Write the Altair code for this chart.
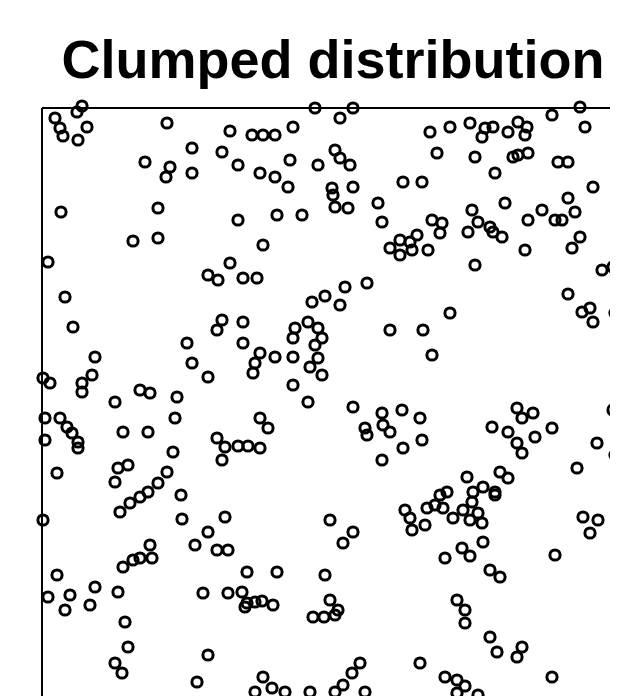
import altair as alt
import pandas as pd

# Point positions in plot units (x to the right, y upward)
x_vals = [
    13, 18, 21, 35, 40, 45, 36, 125, 103, 128, 124, 19, 116, 91, 116, 6, 23,
    273, 188, 210, 221, 233, 251, 150, 180, 196, 218, 233, 246, 248, 276, 150, 196, 235, 260, 221, 188, 166, 176, 201, 215, 283,
    311, 298, 388, 408, 395, 293, 298, 308, 290, 291, 293, 306, 311, 361, 380, 336, 340, 390, 400, 398, 348, 358, 358, 368, 375, 370, 386, 325, 303,
    428, 443, 440, 451, 466, 476, 485, 483, 476, 471, 486, 510, 538, 543, 433, 453, 516, 526, 551, 463, 430, 436, 426, 448, 460, 451, 486, 500, 513, 520, 526, 533, 538, 530, 483, 433, 560, 571, 526,
    31, 53, 1, 8, 40, 50, 40, 73, 98, 108, 135, 133, 81, 106, 3, 18, 25, 30, 36, 36, 3, 15, 131, 76, 86, 73, 125, 116, 106, 98, 139,
    270, 298, 266, 276, 253, 251, 273, 280, 276, 280, 268, 251, 233, 218, 213, 211, 180, 175, 201, 201, 145, 150, 166, 251, 266, 218, 226, 175, 183, 180, 196, 206, 218,
    348, 381, 408, 390, 311, 340, 360, 378, 323, 325, 348, 341, 380, 361, 340, 425, 405, 398,
    540, 548, 551, 573, 575, 571, 573, 475, 491, 450, 466, 493, 510, 475, 480, 480, 555, 535, 441, 458, 466, 453, 431,
    1, 78, 88, 108, 110, 98, 91, 81, 15, 6, 28, 23, 53, 48, 76, 83, 86, 73, 80, 140,
    183, 166, 153, 175, 186, 205, 235, 283, 161, 186, 200, 205, 213, 220, 231, 203, 271, 282, 288, 166, 155, 221, 230, 213, 243, 268,
    363, 368, 370, 383, 385, 393, 401, 411, 421, 428, 288, 311, 301, 403, 420, 428, 296, 293, 415, 423, 423, 378, 318, 310, 301, 293, 323, 403, 415, 423, 415,
    430, 436, 440, 453, 441, 448, 458, 513, 541, 556, 548, 575, 448, 455, 480, 475, 575, 510, 436,
]
y_vals = [
    582, 572, 564, 588, 594, 573, 560, 577, 538, 533, 523, 488, 492, 459, 462, 438, 403,
    592, 569, 565, 565, 565, 573, 552, 548, 535, 527, 523, 513, 540, 535, 527, 480, 485, 485, 455, 437, 425, 420, 422, 422, 404,
    592, 582, 568, 573, 547, 550, 542, 535, 512, 505, 493, 492, 513, 518, 518, 497, 478, 480, 477, 467, 452, 460, 445, 458, 465, 450, 450, 417, 413,
    577, 572, 563, 573, 568, 578, 573, 565, 545, 543, 547, 585, 593, 573, 543, 527, 538, 538, 513, 497, 490, 478, 468, 473, 463, 468, 480, 490, 480, 480, 502, 488, 463, 452, 450, 435, 430, 433, 406,
    373, 343, 322, 317, 317, 325, 308, 298, 310, 307, 303, 282, 268, 268, 282, 282, 273, 267, 258, 252, 260, 227, 248, 232, 235, 218, 228, 217, 208, 203, 205,
    398, 395, 378, 372, 372, 362, 355, 362, 342, 325, 333, 343, 343, 347, 337, 327, 380, 370, 378, 357, 357, 337, 323, 315, 298, 282, 272, 262, 253, 240, 254, 254, 252,
    370, 370, 387, 345, 293, 287, 290, 282, 272, 265, 268, 275, 260, 252, 240, 223, 208, 205,
    388, 392, 378, 387, 323, 290, 245, 292, 287, 273, 268, 263, 272, 257, 247, 282, 257, 232, 213, 228, 222, 208, 208,
    180, 188, 197, 155, 142, 142, 140, 133, 125, 103, 105, 90, 113, 95, 108, 78, 53, 37, 27, 181,
    183, 168, 155, 150, 150, 128, 128, 125, 107, 107, 108, 97, 98, 99, 95, 93, 83, 83, 100, 45, 18, 23, 12, 8, 8, 8,
    190, 182, 170, 175, 192, 195, 192, 182, 190, 180, 180, 168, 157, 142, 152, 144, 90, 85, 100, 90, 77, 37, 37, 27, 15, 8, 8, 23, 20, 14, 7,
    198, 187, 177, 205, 158, 130, 123, 145, 183, 180, 167, 167, 63, 48, 53, 43, 95, 23, 5,
]

title_text = "Clumped distribution"

df = pd.DataFrame({"x": x_vals, "y": y_vals})
one = pd.DataFrame({"k": [0]})

W, H = 568, 588

points = (
    alt.Chart(df)
    .mark_point(shape="circle", filled=False, color="black", stroke="black",
                strokeWidth=3, size=105, opacity=1, clip=False)
    .encode(
        x=alt.X("x:Q", scale=alt.Scale(domain=[0, W], nice=False, zero=False), axis=None),
        y=alt.Y("y:Q", scale=alt.Scale(domain=[4, 592], nice=False, zero=False), axis=None),
    )
)

left_edge = alt.Chart(one).mark_rule(color="black", strokeWidth=2).encode(
    x=alt.value(0), y=alt.value(0), y2=alt.value(H)
)
top_edge = alt.Chart(one).mark_rule(color="black", strokeWidth=2).encode(
    x=alt.value(0), x2=alt.value(W), y=alt.value(0)
)

title = alt.Chart(one).mark_text(
    text=title_text,
    font="Liberation Sans",
    fontSize=54,
    fontWeight="bold",
    color="black",
    align="center",
    baseline="alphabetic",
).encode(x=alt.value(291), y=alt.value(-30))

chart = (
    alt.layer(left_edge, top_edge, points, title)
    .properties(
        width=W,
        height=H,
        padding={"left": 34, "top": 100, "right": 0, "bottom": 0},
        autosize=alt.AutoSizeParams(type="none"),
    )
    .configure_view(stroke="transparent", strokeWidth=0)
    .configure(background="white")
)

chart.save("out.html", embed_options={"renderer": "svg", "actions": False})
